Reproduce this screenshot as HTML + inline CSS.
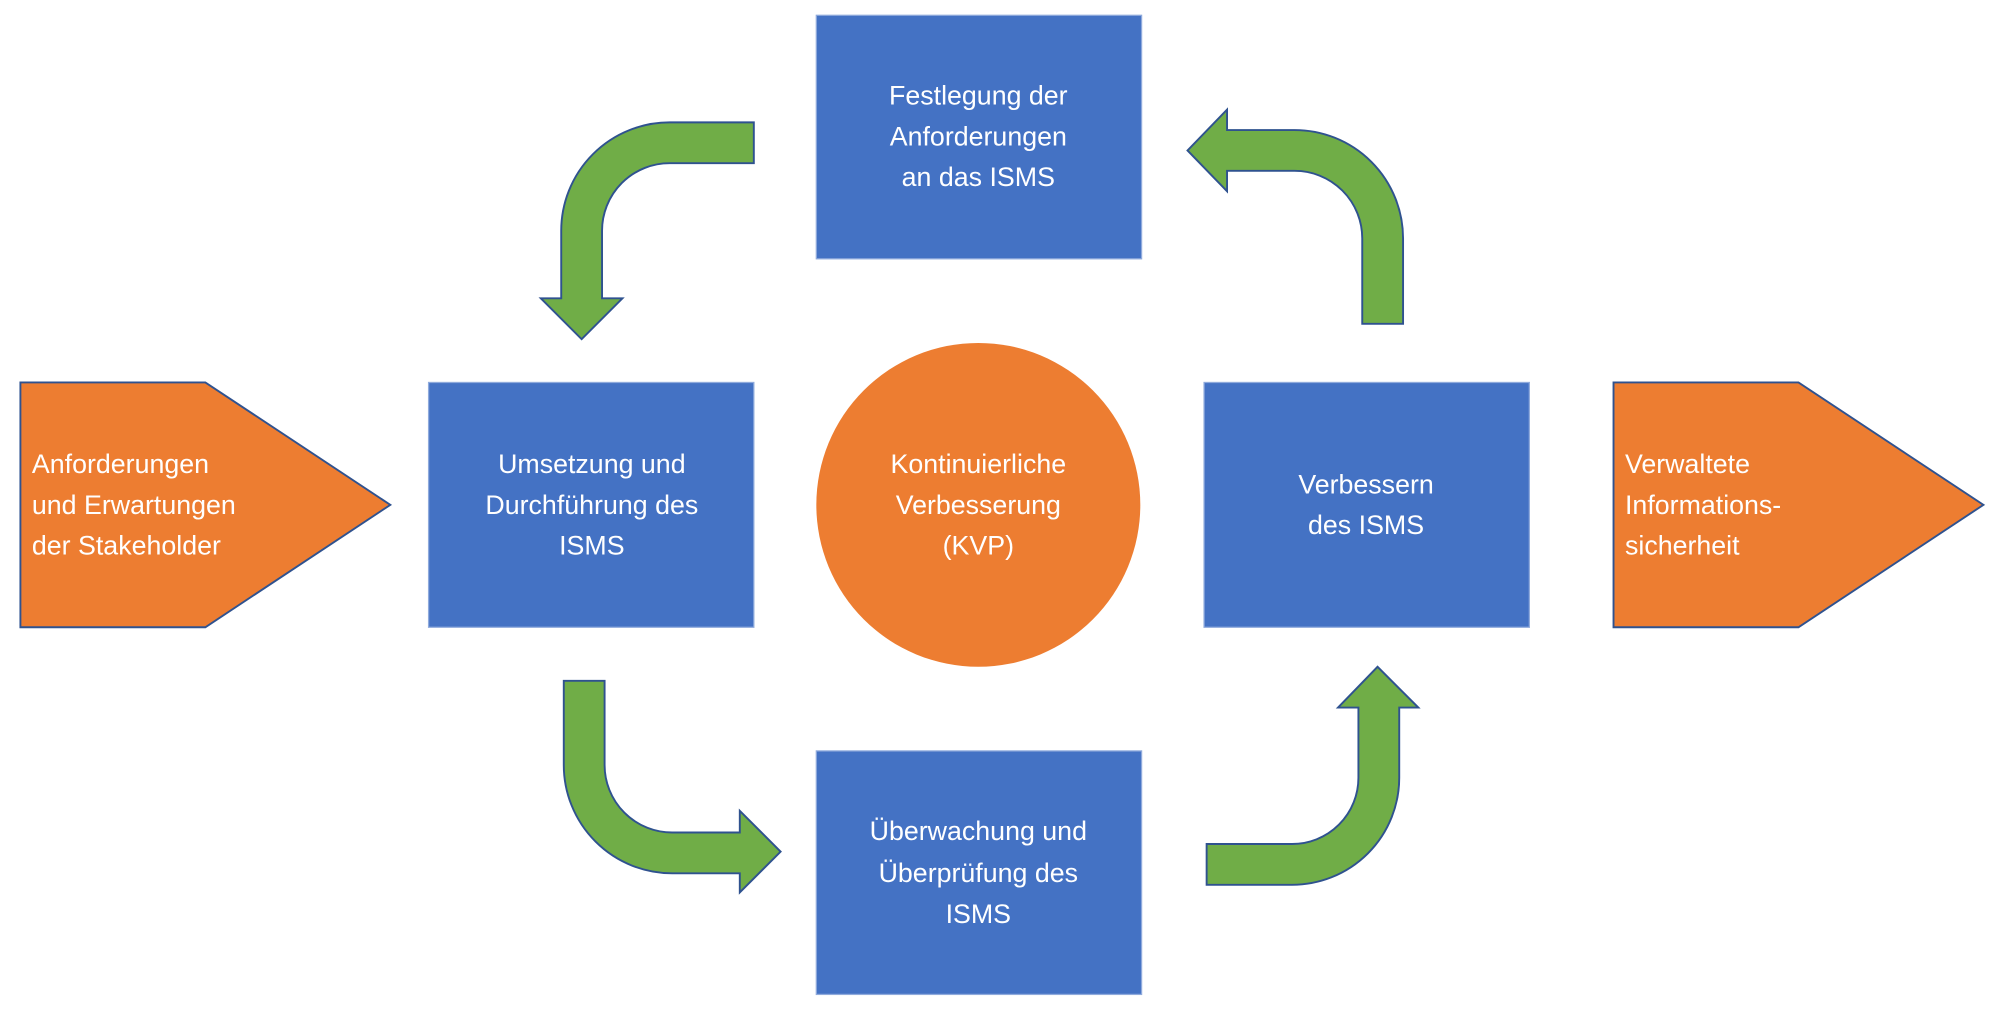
<!DOCTYPE html>
<html><head><meta charset="utf-8"><style>
html,body{margin:0;padding:0;background:#fff;width:2000px;height:1011px;overflow:hidden}
svg{display:block}
text{font-family:"Liberation Sans",sans-serif;font-size:21px;fill:#fff}
</style></head><body>
<svg width="2000" height="1011" viewBox="0 0 1568 793" preserveAspectRatio="none">
<g fill="#70AD47" stroke="#2F528F" stroke-width="1.5">
<path d="M591,96 L525,96 A85,85 0 0 0 440,181 L440,234 L424,234 L456,266 L488,234 L472,234 L472,181 A53,53 0 0 1 525,128 L591,128 Z"/>
<path d="M1068,254 L1068,187 A53,53 0 0 0 1015,134 L962,134 L962,150 L931,118 L962,86 L962,102 L1015,102 A85,85 0 0 1 1100,187 L1100,254 Z"/>
<path d="M442,534 L474,534 L474,600 A53,53 0 0 0 527,653 L580,653 L580,636 L612,668 L580,700 L580,685 L527,685 A85,85 0 0 1 442,600 Z"/>
<path d="M946,662 L1013,662 A52,52 0 0 0 1065,610 L1065,555 L1049,555 L1080,523 L1112,555 L1097,555 L1097,610 A84,84 0 0 1 1013,694 L946,694 Z"/>
</g>
<g fill="#4472C4" stroke="#8FAADC" stroke-width="1">
<rect x="640" y="12" width="255" height="191"/>
<rect x="336" y="300" width="255" height="192"/>
<rect x="944" y="300" width="255" height="192"/>
<rect x="640" y="589" width="255" height="191"/>
</g>
<circle cx="767" cy="396" r="127" fill="#ED7D31"/>
<g fill="#ED7D31" stroke="#2F528F" stroke-width="1.5">
<path d="M16,300 L161,300 L306,396 L161,492 L16,492 Z"/>
<path d="M1265,300 L1410,300 L1555,396 L1410,492 L1265,492 Z"/>
</g>
<g text-anchor="middle">
<text x="767" y="82">Festlegung der</text>
<text x="767" y="114">Anforderungen</text>
<text x="767" y="146">an das ISMS</text>
<text x="464" y="371">Umsetzung und</text>
<text x="464" y="403">Durchführung des</text>
<text x="464" y="435">ISMS</text>
<text x="767" y="371">Kontinuierliche</text>
<text x="767" y="403">Verbesserung</text>
<text x="767" y="435">(KVP)</text>
<text x="1071" y="387">Verbessern</text>
<text x="1071" y="419">des ISMS</text>
<text x="767" y="659">Überwachung und</text>
<text x="767" y="692">Überprüfung des</text>
<text x="767" y="724">ISMS</text>
</g>
<g>
<text x="25" y="371">Anforderungen</text>
<text x="25" y="403">und Erwartungen</text>
<text x="25" y="435">der Stakeholder</text>
<text x="1274" y="371">Verwaltete</text>
<text x="1274" y="403">Informations-</text>
<text x="1274" y="435">sicherheit</text>
</g>
</svg>
</body></html>
